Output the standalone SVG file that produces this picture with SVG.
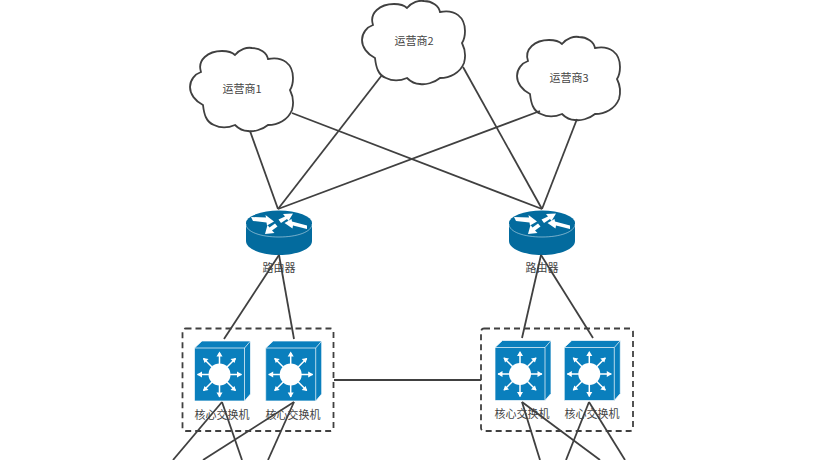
<svg xmlns="http://www.w3.org/2000/svg" xmlns:xlink="http://www.w3.org/1999/xlink" width="818" height="460" viewBox="0 0 818 460">
<style>
text{font-family:"Noto Sans CJK SC","Liberation Sans",sans-serif;font-size:11px;fill:#444;text-anchor:middle}
.cloud{fill:#fff;stroke:#404040;stroke-width:1.8}
.box{fill:none;stroke:#404040;stroke-width:1.8;stroke-dasharray:6 4}
.link{fill:none;stroke:#404040;stroke-width:1.8}
.sw{fill:#0a7fbd;stroke:#fff;stroke-width:.7}
.wl{fill:none;stroke:#fff;stroke-width:1.5}
.wf{fill:#fff}
.rt{fill:#036b9e}
.rs{fill:none;stroke:#fff;stroke-width:.6;opacity:.75}
</style>
<defs>
<path id="cl" class="cloud" d="M201 72C197 60 208 51 222 51C228 51 232 52 235 55C240 49 247 47 252 48C260 48 267 53 268 59C283 56 293 64 293 78C293 83 292 87 290 90C293 96 294 103 292 110C288 120 278 125 268 125C262 130 253 132 248 131C242 131 238 128 235 125C228 128 220 128 214 125C206 122 204 114 203 105C195 101 190 94 190 87C190 80 195 74 201 72Z"/>
<g id="router">
<path class="rt" d="M-33 12V30C-33 38-18 44 0 44S33 38 33 30V12Z"/>
<ellipse class="rt" cx="0" cy="12" rx="33" ry="12.500"/>
<path class="rs" d="M-33 13C-33 21-18 26 0 26S33 21 33 13"/>
<path class="wf" d="M-28 6L-13 6.500-13.500 4-5 10.500-12 14.500-12.500 11.500-26 10Z"/>
<path class="wf" d="M-.5 8.500L6 5.500 4 3 14 2.500 9.500 10 8 8 2 12Z"/>
<path class="wf" d="M28 18L14 14.500 13.500 17.500 5.500 12 12.500 8 13 10.500 28 14.500Z"/>
<path class="wf" d="M-1.500 15.500L-7 19.500-4.500 22-14 23-11.500 14-9.500 16.500-4 12.500Z"/>
</g>
<g id="switch">
<path class="sw" d="M0 7L7.500 0H56V53L50 60H0Z"/>
<path class="sw" d="M0 7H50V60H0Z"/>
<path class="sw" d="M50 7L56 0"/>
<circle class="wf" cx="25" cy="33.500" r="11"/>
<path class="wl" d="M25 12V56M3 33.500H47M9 17.500L41 49.500M41 17.500L9 49.500"/>
<path class="wf" d="M25 10.500L22 15.500H28ZM25 56.500L22 51.500H28ZM2.500 33.500L7.500 30.500V36.500ZM47.500 33.500L42.500 30.500V36.500ZM8.500 17L14 18 10 22ZM41.500 17L36 18 40 22ZM8.500 50L14 49 10 45ZM41.500 50L36 49 40 45Z"/>
</g>
</defs>
<g id="cloud1"><use xlink:href="#cl" href="#cl"/><text x="242" y="93">运营商1</text></g>
<g id="cloud2"><use xlink:href="#cl" href="#cl" x="172" y="-47"/><text x="414" y="45">运营商2</text></g>
<g id="cloud3"><use xlink:href="#cl" href="#cl" x="327" y="-11"/><text x="569" y="82">运营商3</text></g>
<g id="router1"><use xlink:href="#router" href="#router" x="279" y="211"/><text x="279" y="272">路由器</text></g>
<g id="router2"><use xlink:href="#router" href="#router" x="542" y="211"/><text x="542" y="272">路由器</text></g>
<g id="group1"><rect class="box" x="182.500" y="328.500" width="151" height="102.500" rx="3"/></g>
<g id="group2"><rect class="box" x="481" y="328.500" width="152" height="102.500" rx="3"/></g>
<g id="core1"><use xlink:href="#switch" href="#switch" x="194.500" y="341"/><text x="222" y="419">核心交换机</text></g>
<g id="core2"><use xlink:href="#switch" href="#switch" x="265.700" y="341"/><text x="293" y="419">核心交换机</text></g>
<g id="core3"><use xlink:href="#switch" href="#switch" x="495" y="340.500"/><text x="522" y="418">核心交换机</text></g>
<g id="core4"><use xlink:href="#switch" href="#switch" x="564.300" y="340.500"/><text x="592" y="418">核心交换机</text></g>
<g id="connectors" class="link">
<path d="M250 131L278 209"/>
<path d="M292 113L542 209"/>
<path d="M382 75L278 209"/>
<path d="M463 67L542 209"/>
<path d="M540 111L278 209"/>
<path d="M577 119L542 209"/>
<path d="M279 255L224 339"/>
<path d="M279 255L294 339"/>
<path d="M541 255L522 338"/>
<path d="M541 255L593 338"/>
<path d="M334 380H481"/>
<path d="M222 402L173 460"/>
<path d="M222 402L242 460"/>
<path d="M294 402L203 460"/>
<path d="M294 402L268 460"/>
<path d="M522 402L540 460"/>
<path d="M522 402L600 460"/>
<path d="M589 402L566 460"/>
<path d="M589 402L625 460"/>
</g>
</svg>
